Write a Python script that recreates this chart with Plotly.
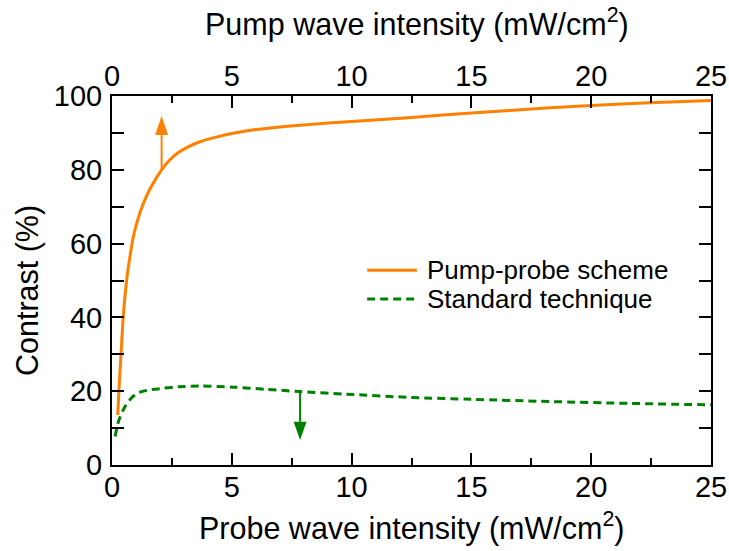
import plotly.graph_objects as go

# Pump-probe scheme (orange)
pump_x = [0.24, 0.29, 0.38, 0.47, 0.61, 0.75, 0.89, 1.1, 1.31, 1.6, 2.07, 2.4, 2.8,
          3.2, 3.67, 4.3, 5.06, 6.0, 7.0, 7.85, 10, 12.5, 15, 18.28, 20, 22.45, 25]
pump_y = [13.5, 20.3, 30.3, 40.2, 50, 56.5, 61.9, 67, 70.9, 75, 80, 82.6, 84.8,
          86.3, 87.6, 88.8, 89.9, 90.9, 91.6, 92.1, 93.1, 94.2, 95.4, 96.8, 97.4, 98.2, 98.8]

# Standard technique (green)
std_x = [0.13, 0.2, 0.29, 0.54, 0.82, 0.96, 1.2, 1.52, 2.14, 2.8, 3.67, 5.06, 6.45,
         7.85, 9.79, 12.5, 15, 18.28, 21.6, 25]
std_y = [7.7, 10, 12.2, 15.8, 18.2, 19, 19.8, 20.3, 20.8, 21.2, 21.4, 21.1, 20.5,
         19.9, 19.2, 18.3, 17.8, 17.2, 16.7, 16.3]

# arrows: x, tail y, head base y, tip y
pump_arrow = [2.07, 80, 89.4, 94.6]
std_arrow = [7.85, 19.9, 11.7, 6.8]

orange = "#FF8000"
green = "#008000"
font = "Liberation Sans, Arial, sans-serif"
green_dash = "8px,5px"

fig = go.Figure()
fig.add_trace(go.Scatter(x=pump_x, y=pump_y, mode="lines", name="Pump-probe scheme",
                         line=dict(color=orange, width=3, shape="spline", smoothing=0.8),
                         showlegend=False))
fig.add_trace(go.Scatter(x=std_x, y=std_y, mode="lines", name="Standard technique",
                         line=dict(color=green, width=3, dash=green_dash,
                                   shape="spline", smoothing=0.8),
                         showlegend=False))
# invisible trace to carry the top axis
fig.add_trace(go.Scatter(x=[0, 25], y=[0, 0], xaxis="x2", mode="lines",
                         line=dict(width=0), showlegend=False, hoverinfo="skip"))

# arrows drawn as a stem plus a filled head
half_w = 0.27
for (ax_x, tail, base, tip), col in [(pump_arrow, orange), (std_arrow, green)]:
    fig.add_shape(type="line", x0=ax_x, x1=ax_x, y0=tail, y1=base, xref="x", yref="y",
                  line=dict(color=col, width=2))
    fig.add_shape(type="path", xref="x", yref="y", fillcolor=col, line=dict(width=0),
                  path=f"M{ax_x - half_w},{base} L{ax_x + half_w},{base} L{ax_x},{tip} Z")

# legend, drawn by hand so the row spacing matches
legend_items = [("Pump-probe scheme", orange, "solid", 0.528),
                ("Standard technique", green, green_dash, 0.45)]
for label, col, dash, ly in legend_items:
    fig.add_shape(type="line", xref="paper", yref="paper", x0=0.426, x1=0.509,
                  y0=ly, y1=ly, line=dict(color=col, width=3, dash=dash))
    fig.add_annotation(x=0.5225, y=ly, xref="paper", yref="paper", text=label,
                       showarrow=False, xanchor="left", yanchor="middle",
                       font=dict(size=26, color="black"))

# axis titles
titles = [("Probe wave intensity (mW/cm<sup>2</sup>)", 0.5, -0.168, 0),
          ("Pump wave intensity (mW/cm<sup>2</sup>)", 0.51, 1.2, 0),
          ("Contrast (%)", -0.142, 0.474, -90)]
for text, tx, ty, rot in titles:
    fig.add_annotation(x=tx, y=ty, xref="paper", yref="paper", text=text,
                       showarrow=False, xanchor="center", yanchor="middle",
                       textangle=rot, font=dict(size=30.5, color="black"))

axis_common = dict(
    range=[0, 25], dtick=5, ticks="inside", ticklen=12, tickwidth=2,
    tickcolor="black", showline=True, linecolor="black", linewidth=2,
    showgrid=False, zeroline=False, automargin=False, ticklabeloverflow="allow",
    minor=dict(dtick=2.5, ticks="inside", ticklen=7, tickwidth=2, tickcolor="black"),
    tickfont=dict(size=29, color="black", family=font),
)

fig.update_layout(
    width=729, height=551,
    margin=dict(l=112, r=18, t=96, b=86),
    paper_bgcolor="white", plot_bgcolor="white",
    font=dict(family=font, color="black"),
    xaxis=dict(**axis_common, ticklabelstandoff=-5),
    xaxis2=dict(**axis_common, overlaying="x", side="top", ticklabelstandoff=-4),
    yaxis=dict(range=[0, 100], dtick=20, ticks="inside", ticklen=12, tickwidth=2,
               tickcolor="black", showline=True, linecolor="black", linewidth=2,
               mirror="allticks", showgrid=False, zeroline=False, automargin=False,
               minor=dict(dtick=10, ticks="inside", ticklen=7, tickwidth=2,
                          tickcolor="black"),
               tickfont=dict(size=29, color="black", family=font),
               ticklabelstandoff=2),
    showlegend=False,
)

fig.write_html("out.html", config={"displayModeBar": False},
               post_script="document.body.style.margin = '0';")
